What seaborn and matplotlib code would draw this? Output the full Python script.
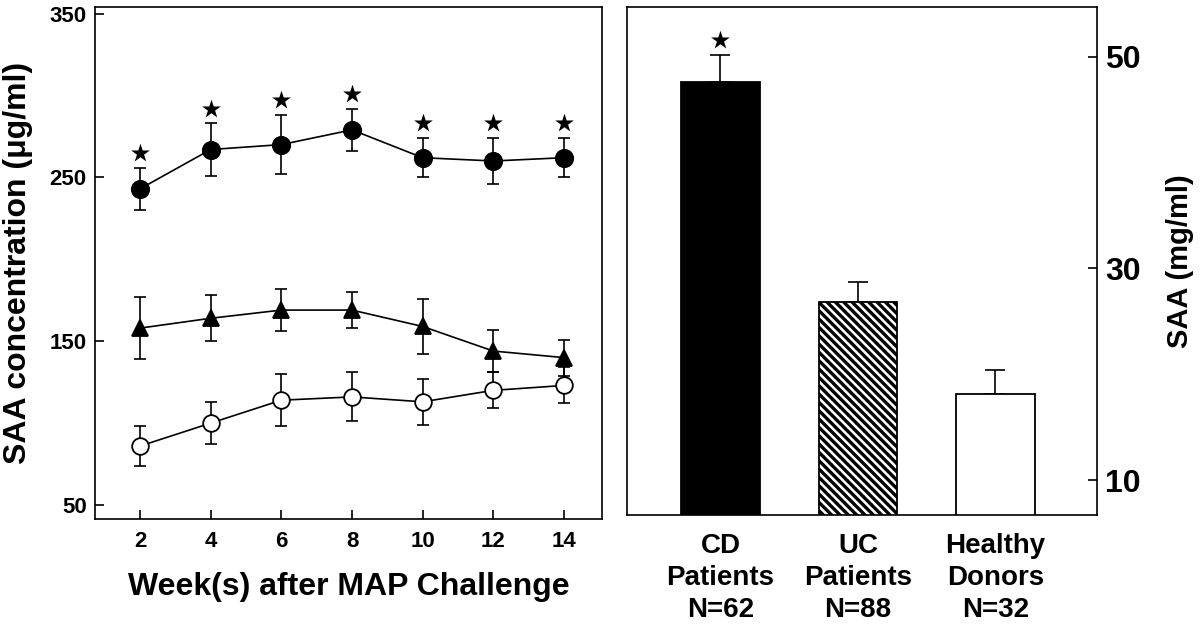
import numpy as np
import pandas as pd
import matplotlib
matplotlib.use("Agg")
import matplotlib.pyplot as plt
import seaborn as sns

# ---- data ----
weeks = [2, 4, 6, 8, 10, 12, 14]

# filled circles (top series, significant at every week)
filled_mean = [243, 267, 270, 279, 262, 260, 262]
filled_err = [13, 16, 18, 13, 12, 14, 12]

# filled triangles
tri_mean = [158, 164, 169, 169, 159, 144, 140]
tri_err = [19, 14, 13, 11, 17, 13, 11]

# open circles
open_mean = [86, 100, 114, 116, 113, 120, 123]
open_err = [12, 13, 16, 15, 14, 11, 11]

groups = ["CD\nPatients\nN=62", "UC\nPatients\nN=88", "Healthy\nDonors\nN=32"]
group_saa = [47.6, 26.8, 18.1]
group_err = [2.6, 1.9, 2.3]
group_star = [True, False, False]

# ---- style ----
sns.set_style("ticks")
plt.rcParams['font.family'] = ['Liberation Sans', 'DejaVu Sans']
plt.rcParams['font.weight'] = 'bold'
plt.rcParams['axes.labelweight'] = 'bold'
plt.rcParams['hatch.linewidth'] = 2.4
plt.rcParams['axes.linewidth'] = 1.2
for key in ['text.color', 'axes.labelcolor', 'xtick.color', 'ytick.color', 'axes.edgecolor']:
    plt.rcParams[key] = 'black'

fig = plt.figure(figsize=(12, 6.28), dpi=100)
ax1 = fig.add_axes([0.0792, 0.1736, 0.4225, 0.8153])
ax2 = fig.add_axes([0.5225, 0.1799, 0.3917, 0.8089])

# ---- left panel: time course ----
series = [
    (filled_mean, filled_err, 'o', 'black', 12.5),
    (tri_mean, tri_err, '^', 'black', 12),
    (open_mean, open_err, 'o', 'white', 12),
]
for mean, err, mk, face, ms in series:
    ax1.errorbar(weeks, mean, yerr=err, fmt='none', ecolor='black',
                 elinewidth=1.2, capsize=4, capthick=1.2, zorder=1)
    sns.lineplot(x=weeks, y=mean, ax=ax1, color='black', linewidth=1.2,
                 marker=mk, markersize=ms, markerfacecolor=face,
                 markeredgecolor='black', markeredgewidth=1.3, zorder=3)

star_y = [m + e + 9 for m, e in zip(filled_mean, filled_err)]
ax1.scatter(weeks, star_y, marker='*', s=200, color='black', linewidths=0, zorder=4)

ax1.set_xlim(0.726, 15.08)
ax1.set_ylim(41.5, 354)
ax1.set_xticks(weeks)
ax1.set_yticks([50, 150, 250, 350])
ax1.tick_params(axis='both', direction='in', length=6.5, width=1.2, labelsize=16)
ax1.tick_params(axis='x', pad=9)
ax1.tick_params(axis='y', pad=6)
for lab in ax1.get_xticklabels() + ax1.get_yticklabels():
    lab.set_fontweight('bold')
ax1.set_xlabel("Week(s) after MAP Challenge", fontsize=23, fontweight='bold', labelpad=14)
ax1.set_ylabel("SAA concentration (\u03bcg/ml)", fontsize=23, fontweight='bold', labelpad=12)
for s in ax1.spines.values():
    s.set_visible(True)
    s.set_linewidth(1.2)

# ---- right panel: patient groups ----
df = pd.DataFrame({"group": groups, "saa": group_saa})
sns.barplot(data=df, x="group", y="saa", hue="group", ax=ax2, legend=False,
            palette=['black', 'white', 'white'], width=0.57, errorbar=None,
            edgecolor='black', linewidth=1.3, zorder=2)
ax2.patches[1].set_hatch('\\\\\\\\')
ax2.errorbar(range(len(groups)), group_saa, yerr=[[0] * len(groups), group_err],
             fmt='none', ecolor='black', elinewidth=1.2, capsize=7, capthick=1.2, zorder=1)
for i, (v, e, st) in enumerate(zip(group_saa, group_err, group_star)):
    if st:
        ax2.scatter([i], [v + e + 1.4], marker='*', s=200, color='black', linewidths=0, zorder=4)

ax2.set_xlim(-0.68, 2.74)
ax2.set_ylim(6.7, 54.7)
ax2.set_yticks([10, 30, 50])
ax2.yaxis.tick_right()
ax2.yaxis.set_label_position('right')
ax2.tick_params(axis='y', direction='in', length=6.5, width=1.2, labelsize=23, pad=6)
ax2.tick_params(axis='x', length=0, labelsize=20, pad=13)
for lab in ax2.get_yticklabels() + ax2.get_xticklabels():
    lab.set_fontweight('bold')
for lab in ax2.get_xticklabels():
    lab.set_linespacing(1.3)
ax2.set_xlabel("")
ax2.set_ylabel("SAA (mg/ml)", fontsize=21, fontweight='bold', labelpad=18)
for s in ax2.spines.values():
    s.set_visible(True)
    s.set_linewidth(1.2)

fig.savefig("out.png", dpi=100)
